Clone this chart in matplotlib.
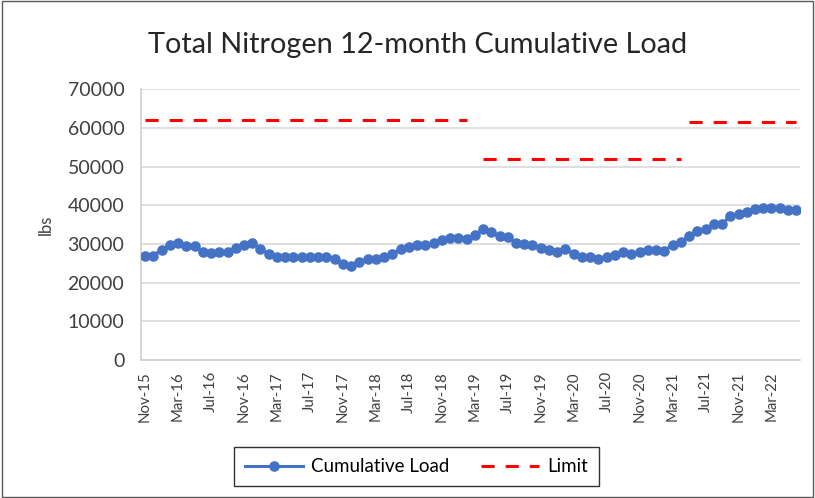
import numpy as np
import pandas as pd
import matplotlib.pyplot as plt
from matplotlib.patches import Rectangle

plt.rcParams['font.family'] = ['Lato', 'DejaVu Sans']

# monthly 12-month cumulative load, Nov-15 .. Jun-22
months = pd.date_range('2015-11-01', periods=80, freq='MS')
month_labels = [m.strftime('%b-%y') for m in months]

cumulative_load = [
    27000, 27000, 28500, 29700, 30300, 29500, 29400, 27900, 27700, 27900,
    27900, 29000, 29700, 30300, 28800, 27300, 26500, 26500, 26600, 26600,
    26600, 26600, 26500, 26200, 24900, 24200, 25300, 26000, 26000, 26600,
    27400, 28700, 29100, 29600, 29600, 30200, 31000, 31500, 31500, 31400,
    32300, 33800, 33000, 32000, 31700, 30300, 30000, 29600, 29000, 28500,
    28000, 28800, 27400, 26600, 26500, 26200, 26600, 27200, 27900, 27400,
    27900, 28500, 28500, 28300, 29800, 30400, 32100, 33400, 33800, 35100,
    35100, 37300, 37700, 38300, 39000, 39400, 39400, 39400, 38700, 38700,
]

# permit limit per month (blank month between the first two permits)
limit = [62000] * 40 + [np.nan] + [52000] * 25 + [61500] * 14

x = np.arange(len(months))
limit = np.array(limit, dtype=float)

fig = plt.figure(figsize=(8.15, 4.98), dpi=100)
ax = fig.add_axes([0.173, 0.277, 0.809, 0.544])

ax.plot(x, cumulative_load, color='#4472C4', lw=2.2, marker='o',
        markersize=6.6, label='Cumulative Load', zorder=3)

# draw each permit period as its own dashed segment
first = True
for v in pd.unique(limit[~np.isnan(limit)]):
    seg = np.where(limit == v, limit, np.nan)
    ax.plot(x, seg, color='#FF0000', lw=2.2, dashes=(4.3, 3.6),
            label='Limit' if first else None, zorder=2)
    first = False

ax.set_xlim(-0.5, len(x) - 0.5)
ax.set_ylim(0, 70000)
ax.set_yticks(np.arange(0, 70001, 10000))
ax.set_xticks(x[::4], labels=month_labels[::4], rotation=90)
ax.tick_params(axis='both', length=0, colors='#404040')
ax.tick_params(axis='y', labelsize=14, pad=12)
ax.tick_params(axis='x', labelsize=10.8, pad=8)
ax.grid(axis='y', color='#d9d9d9', lw=1.2)
ax.set_axisbelow(True)
for s in ['top', 'right']:
    ax.spines[s].set_visible(False)
for s in ['left', 'bottom']:
    ax.spines[s].set_color('#d0d0d0')
    ax.spines[s].set_linewidth(1.2)

ax.set_ylabel('lbs', fontsize=12, color='#404040', labelpad=10)
fig.suptitle('Total Nitrogen 12-month Cumulative Load', fontsize=20.8,
             x=0.512, y=0.935, color='#262626')

leg = fig.legend(loc='center', bbox_to_anchor=(0.511, 0.063), ncol=2,
                 fontsize=13.5, frameon=True, fancybox=False,
                 handlelength=3.1, handletextpad=0.4, columnspacing=1.7,
                 borderpad=0.6, borderaxespad=0)
leg.get_frame().set_edgecolor('black')
leg.get_frame().set_linewidth(1)

fig.patches.append(Rectangle((0.002, 0.002), 0.995, 0.995,
                             transform=fig.transFigure, fill=False,
                             edgecolor='#595959', lw=1))

fig.savefig('out.png', dpi=100)
